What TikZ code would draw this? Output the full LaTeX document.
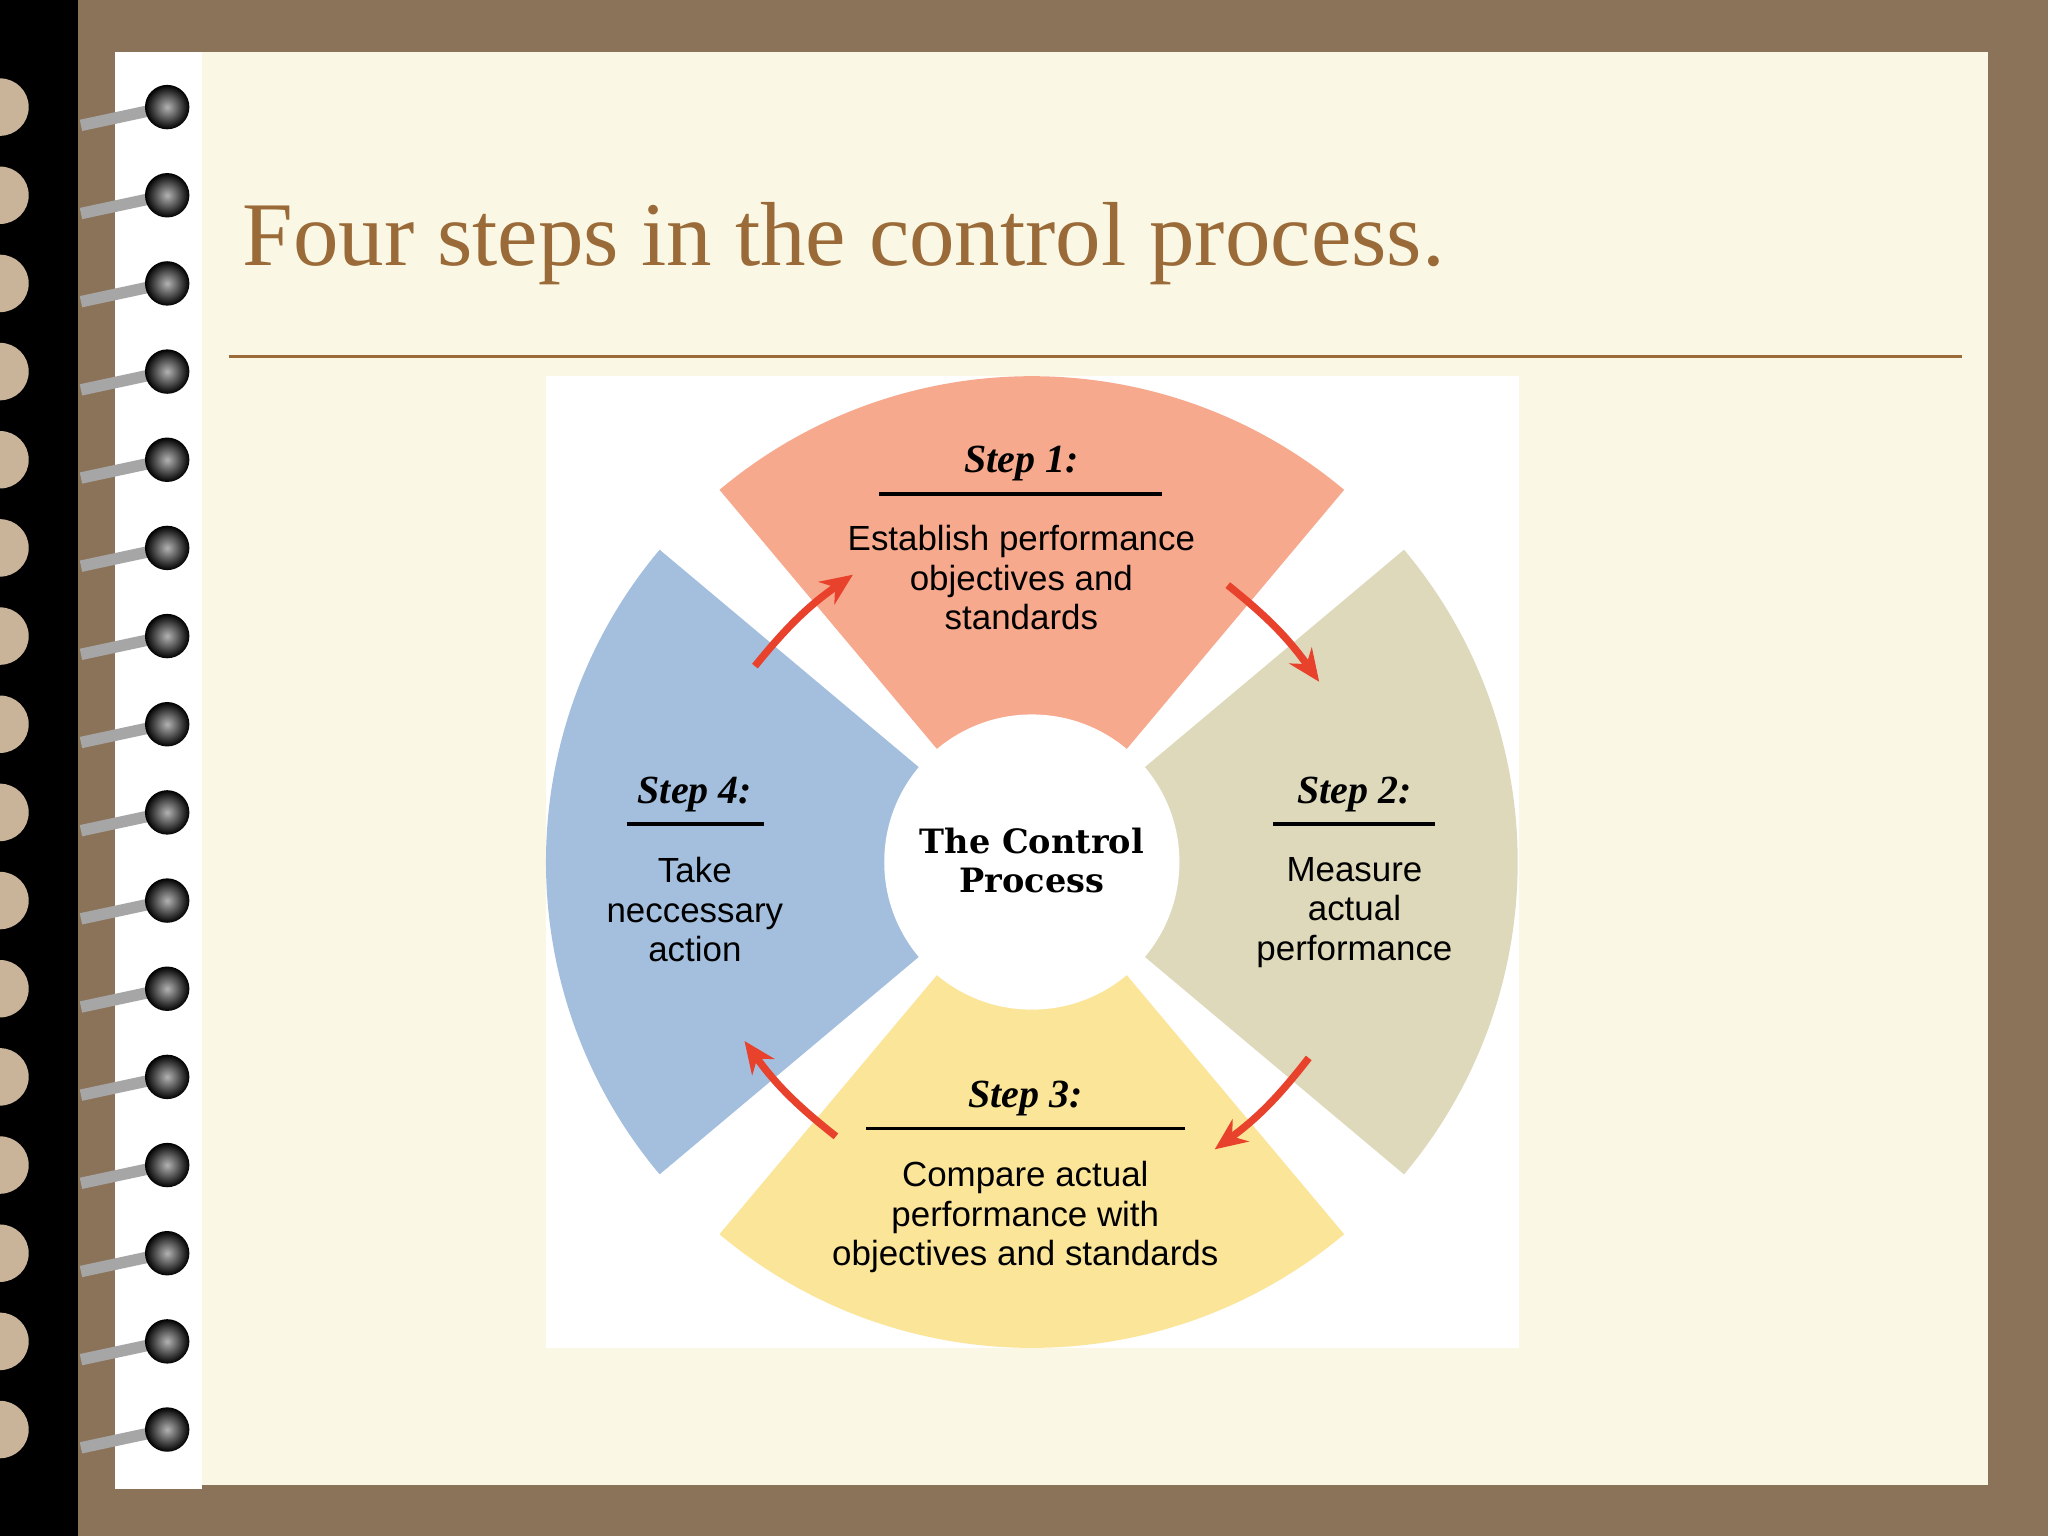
\documentclass[tikz,border=0pt]{standalone}
\usepackage{fontspec}
\setmainfont{Liberation Serif}
\setsansfont{Liberation Sans}
\newfontfamily\ctrfont{DejaVu Serif}
\usetikzlibrary{arrows.meta}
\definecolor{bgbrown}{HTML}{8B735A}
\definecolor{cream}{HTML}{FAF8E4}
\definecolor{titlec}{HTML}{9A6A38}
\definecolor{secA}{HTML}{F7A98E}
\definecolor{secB}{HTML}{DDD9BA}
\definecolor{secC}{HTML}{FBE598}
\definecolor{secD}{HTML}{A3BFDD}
\definecolor{arr}{HTML}{E8412C}
\definecolor{tan}{HTML}{C9B49A}
\tikzset{
 steplbl/.style={font=\fontsize{8.7}{10}\selectfont\bfseries\itshape, anchor=base},
 body/.style={font=\sffamily\fontsize{7.6}{8.6}\selectfont, align=center, anchor=north},
 rarrow/.style={arr, line width=1.6pt, -{Stealth[length=7pt,width=6pt]}},
 uline/.style={line width=0.8pt}
}
\begin{document}
\begin{tikzpicture}[x=0.01cm,y=-0.01cm]
\useasboundingbox (0,0) rectangle (1568,1176);
\fill[bgbrown] (0,0) rectangle (1568,1176);
\fill[cream] (88,40) rectangle (1522,1137);
\fill[black] (0,0) rectangle (60,1176);
\fill[white] (88,40) rectangle (155,1140);
\foreach \i in {0,...,15}{
  \pgfmathsetmacro{\yy}{82+67.5*\i}
  \fill[tan] (0,\yy) circle (22);
  \draw[gray!70, line width=2.5pt] (62,\yy+14) -- (118,\yy+2);
  \shade[inner color=gray!60, outer color=black] (128,\yy) circle (17);
}
\node[anchor=base west, text=titlec, font=\fontsize{19.8}{22}\selectfont, inner sep=0] (title) at (185,203) {Four steps in the control process.};
\draw[titlec, line width=0.8pt] (175,273) -- (1502,273);
\fill[white] (418,288) rectangle (1163,1032);
\coordinate (c) at (790,660);
\fill[secA] (c) -- ++(230:372) arc[start angle=230,end angle=310,radius=372] -- cycle;
\fill[secD] (c) -- ++(140:372) arc[start angle=140,end angle=220,radius=372] -- cycle;
\fill[secC] (c) -- ++(50:372) arc[start angle=50,end angle=130,radius=372] -- cycle;
\fill[secB] (c) -- ++(-40:372) arc[start angle=-40,end angle=40,radius=372] -- cycle;
\fill[white] (c) circle (113);
\node[align=center, font=\ctrfont\bfseries\fontsize{7.3}{8.6}\selectfont] (ctr) at (790,659) {The Control\\Process};
% step 1
\node[steplbl] (s1) at (782,362) {Step 1:};
\draw[uline] (673,378) -- (890,378);
\node[body] (b1) at (782,390) {Establish performance\\objectives and\\standards};
% step 2
\node[steplbl] (s2) at (1037,615) {Step 2:};
\draw[uline] (975,631) -- (1099,631);
\node[body] (b2) at (1037,644) {Measure\\actual\\performance};
% step 3
\node[steplbl] (s3) at (785,848) {Step 3:};
\draw[uline] (663,864) -- (907,864);
\node[body] (b3) at (785,877) {Compare actual\\performance with\\objectives and standards};
% step 4
\node[steplbl] (s4) at (532,615) {Step 4:};
\draw[uline] (480,631) -- (585,631);
\node[body] (b4) at (532,644) {Take\\neccessary\\action};
% arrows
\coordinate (a1s) at (578,510); \coordinate (a1e) at (653,440);
\coordinate (a2s) at (940,448); \coordinate (a2e) at (1010,522);
\coordinate (a3s) at (1002,810); \coordinate (a3e) at (930,880);
\coordinate (a4s) at (640,870); \coordinate (a4e) at (570,797);
\draw[rarrow] (a1s) to[bend left=8] (a1e);
\draw[rarrow] (a2s) to[bend left=8] (a2e);
\draw[rarrow] (a3s) to[bend left=8] (a3e);
\draw[rarrow] (a4s) to[bend left=8] (a4e);
\end{tikzpicture}
\end{document}
